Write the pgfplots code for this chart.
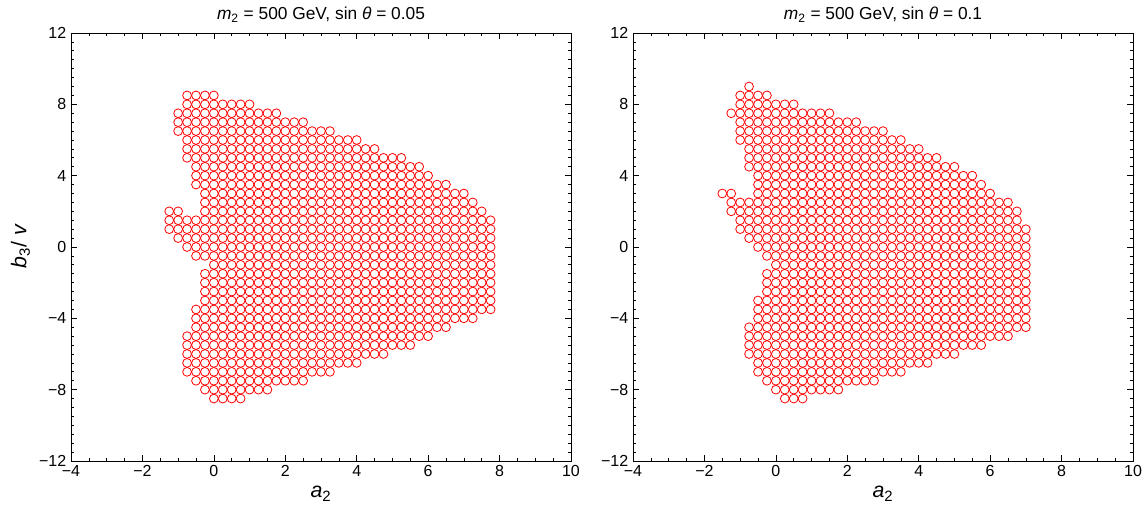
\documentclass[border=0pt]{standalone}
\usepackage{pgfplots}
\pgfplotsset{compat=1.18}
\usepackage{fontspec}
\setmainfont{Liberation Sans}

\pgfplotsset{
  scanaxis/.style={
    scale only axis, width=375pt, height=321pt,
    xmin=-4, xmax=10, ymin=-12, ymax=12,
    xtick={-4,-2,...,10}, xticklabels={−4,−2,0,2,4,6,8,10},
    ytick={-12,-8,...,12}, yticklabels={−12,−8,−4,0,4,8,12},
    minor x tick num=3, minor y tick num=7,
    tick align=inside,
    major tick length=4.5pt, minor tick length=2.2pt,
    every tick/.style={black, line width=0.5pt},
    axis line style={line width=0.6pt},
    ticklabel style={font=\fontsize{12}{14}\selectfont},
    xlabel={{\itshape a}\textsubscript{2}},
    label style={font=\fontsize{16}{18}\selectfont},
    title style={font=\fontsize{13}{15}\selectfont, yshift=-2pt},
  },
  scanpts/.style={only marks, mark=o, mark size=3.3pt, color=red,
    mark options={line width=0.6pt}},
}

\begin{document}
\begin{tikzpicture}
% sin theta = 0.05
\begin{axis}[scanaxis, at={(0pt,0pt)},
  ylabel={{\itshape b}\textsubscript{3}/ {\itshape v}},
  title={{\itshape m}\textsubscript{2} = 500 GeV, sin {\itshape θ} = 0.05}]
\addplot[scanpts] coordinates {
(-0.75,8.5) (-0.5,8.5) (-0.25,8.5) (0,8.5)
(-0.75,8) (-0.5,8) (-0.25,8) (0,8) (0.25,8) (0.5,8) (0.75,8) (1,8)
(-1,7.5) (-0.75,7.5) (-0.5,7.5) (-0.25,7.5) (0,7.5) (0.25,7.5) (0.5,7.5) (0.75,7.5) (1,7.5) (1.25,7.5) (1.5,7.5) (1.75,7.5)
(-1,7) (-0.75,7) (-0.5,7) (-0.25,7) (0,7) (0.25,7) (0.5,7) (0.75,7) (1,7) (1.25,7) (1.5,7) (1.75,7) (2,7) (2.25,7) (2.5,7)
(-1,6.5) (-0.75,6.5) (-0.5,6.5) (-0.25,6.5) (0,6.5) (0.25,6.5) (0.5,6.5) (0.75,6.5) (1,6.5) (1.25,6.5) (1.5,6.5) (1.75,6.5) (2,6.5) (2.25,6.5) (2.5,6.5) (2.75,6.5) (3,6.5) (3.25,6.5)
(-0.75,6) (-0.5,6) (-0.25,6) (0,6) (0.25,6) (0.5,6) (0.75,6) (1,6) (1.25,6) (1.5,6) (1.75,6) (2,6) (2.25,6) (2.5,6) (2.75,6) (3,6) (3.25,6) (3.5,6) (3.75,6) (4,6)
(-0.75,5.5) (-0.5,5.5) (-0.25,5.5) (0,5.5) (0.25,5.5) (0.5,5.5) (0.75,5.5) (1,5.5) (1.25,5.5) (1.5,5.5) (1.75,5.5) (2,5.5) (2.25,5.5) (2.5,5.5) (2.75,5.5) (3,5.5) (3.25,5.5) (3.5,5.5) (3.75,5.5) (4,5.5) (4.25,5.5) (4.5,5.5)
(-0.75,5) (-0.5,5) (-0.25,5) (0,5) (0.25,5) (0.5,5) (0.75,5) (1,5) (1.25,5) (1.5,5) (1.75,5) (2,5) (2.25,5) (2.5,5) (2.75,5) (3,5) (3.25,5) (3.5,5) (3.75,5) (4,5) (4.25,5) (4.5,5) (4.75,5) (5,5) (5.25,5)
(-0.5,4.5) (-0.25,4.5) (0,4.5) (0.25,4.5) (0.5,4.5) (0.75,4.5) (1,4.5) (1.25,4.5) (1.5,4.5) (1.75,4.5) (2,4.5) (2.25,4.5) (2.5,4.5) (2.75,4.5) (3,4.5) (3.25,4.5) (3.5,4.5) (3.75,4.5) (4,4.5) (4.25,4.5) (4.5,4.5) (4.75,4.5) (5,4.5) (5.25,4.5) (5.5,4.5) (5.75,4.5)
(-0.5,4) (-0.25,4) (0,4) (0.25,4) (0.5,4) (0.75,4) (1,4) (1.25,4) (1.5,4) (1.75,4) (2,4) (2.25,4) (2.5,4) (2.75,4) (3,4) (3.25,4) (3.5,4) (3.75,4) (4,4) (4.25,4) (4.5,4) (4.75,4) (5,4) (5.25,4) (5.5,4) (5.75,4) (6,4)
(-0.5,3.5) (-0.25,3.5) (0,3.5) (0.25,3.5) (0.5,3.5) (0.75,3.5) (1,3.5) (1.25,3.5) (1.5,3.5) (1.75,3.5) (2,3.5) (2.25,3.5) (2.5,3.5) (2.75,3.5) (3,3.5) (3.25,3.5) (3.5,3.5) (3.75,3.5) (4,3.5) (4.25,3.5) (4.5,3.5) (4.75,3.5) (5,3.5) (5.25,3.5) (5.5,3.5) (5.75,3.5) (6,3.5) (6.25,3.5) (6.5,3.5)
(-0.25,3) (0,3) (0.25,3) (0.5,3) (0.75,3) (1,3) (1.25,3) (1.5,3) (1.75,3) (2,3) (2.25,3) (2.5,3) (2.75,3) (3,3) (3.25,3) (3.5,3) (3.75,3) (4,3) (4.25,3) (4.5,3) (4.75,3) (5,3) (5.25,3) (5.5,3) (5.75,3) (6,3) (6.25,3) (6.5,3) (6.75,3) (7,3)
(-0.25,2.5) (0,2.5) (0.25,2.5) (0.5,2.5) (0.75,2.5) (1,2.5) (1.25,2.5) (1.5,2.5) (1.75,2.5) (2,2.5) (2.25,2.5) (2.5,2.5) (2.75,2.5) (3,2.5) (3.25,2.5) (3.5,2.5) (3.75,2.5) (4,2.5) (4.25,2.5) (4.5,2.5) (4.75,2.5) (5,2.5) (5.25,2.5) (5.5,2.5) (5.75,2.5) (6,2.5) (6.25,2.5) (6.5,2.5) (6.75,2.5) (7,2.5) (7.25,2.5)
(-1.25,2) (-1,2) (-0.25,2) (0,2) (0.25,2) (0.5,2) (0.75,2) (1,2) (1.25,2) (1.5,2) (1.75,2) (2,2) (2.25,2) (2.5,2) (2.75,2) (3,2) (3.25,2) (3.5,2) (3.75,2) (4,2) (4.25,2) (4.5,2) (4.75,2) (5,2) (5.25,2) (5.5,2) (5.75,2) (6,2) (6.25,2) (6.5,2) (6.75,2) (7,2) (7.25,2) (7.5,2)
(-1.25,1.5) (-1,1.5) (-0.75,1.5) (-0.5,1.5) (-0.25,1.5) (0,1.5) (0.25,1.5) (0.5,1.5) (0.75,1.5) (1,1.5) (1.25,1.5) (1.5,1.5) (1.75,1.5) (2,1.5) (2.25,1.5) (2.5,1.5) (2.75,1.5) (3,1.5) (3.25,1.5) (3.5,1.5) (3.75,1.5) (4,1.5) (4.25,1.5) (4.5,1.5) (4.75,1.5) (5,1.5) (5.25,1.5) (5.5,1.5) (5.75,1.5) (6,1.5) (6.25,1.5) (6.5,1.5) (6.75,1.5) (7,1.5) (7.25,1.5) (7.5,1.5) (7.75,1.5)
(-1.25,1) (-1,1) (-0.75,1) (-0.5,1) (-0.25,1) (0,1) (0.25,1) (0.5,1) (0.75,1) (1,1) (1.25,1) (1.5,1) (1.75,1) (2,1) (2.25,1) (2.5,1) (2.75,1) (3,1) (3.25,1) (3.5,1) (3.75,1) (4,1) (4.25,1) (4.5,1) (4.75,1) (5,1) (5.25,1) (5.5,1) (5.75,1) (6,1) (6.25,1) (6.5,1) (6.75,1) (7,1) (7.25,1) (7.5,1) (7.75,1)
(-1,0.5) (-0.75,0.5) (-0.5,0.5) (-0.25,0.5) (0,0.5) (0.25,0.5) (0.5,0.5) (0.75,0.5) (1,0.5) (1.25,0.5) (1.5,0.5) (1.75,0.5) (2,0.5) (2.25,0.5) (2.5,0.5) (2.75,0.5) (3,0.5) (3.25,0.5) (3.5,0.5) (3.75,0.5) (4,0.5) (4.25,0.5) (4.5,0.5) (4.75,0.5) (5,0.5) (5.25,0.5) (5.5,0.5) (5.75,0.5) (6,0.5) (6.25,0.5) (6.5,0.5) (6.75,0.5) (7,0.5) (7.25,0.5) (7.5,0.5) (7.75,0.5)
(-0.75,0) (-0.5,0) (-0.25,0) (0,0) (0.25,0) (0.5,0) (0.75,0) (1,0) (1.25,0) (1.5,0) (1.75,0) (2,0) (2.25,0) (2.5,0) (2.75,0) (3,0) (3.25,0) (3.5,0) (3.75,0) (4,0) (4.25,0) (4.5,0) (4.75,0) (5,0) (5.25,0) (5.5,0) (5.75,0) (6,0) (6.25,0) (6.5,0) (6.75,0) (7,0) (7.25,0) (7.5,0) (7.75,0)
(-0.5,-0.5) (-0.25,-0.5) (0,-0.5) (0.25,-0.5) (0.5,-0.5) (0.75,-0.5) (1,-0.5) (1.25,-0.5) (1.5,-0.5) (1.75,-0.5) (2,-0.5) (2.25,-0.5) (2.5,-0.5) (2.75,-0.5) (3,-0.5) (3.25,-0.5) (3.5,-0.5) (3.75,-0.5) (4,-0.5) (4.25,-0.5) (4.5,-0.5) (4.75,-0.5) (5,-0.5) (5.25,-0.5) (5.5,-0.5) (5.75,-0.5) (6,-0.5) (6.25,-0.5) (6.5,-0.5) (6.75,-0.5) (7,-0.5) (7.25,-0.5) (7.5,-0.5) (7.75,-0.5)
(0,-1) (0.25,-1) (0.5,-1) (0.75,-1) (1,-1) (1.25,-1) (1.5,-1) (1.75,-1) (2,-1) (2.25,-1) (2.5,-1) (2.75,-1) (3,-1) (3.25,-1) (3.5,-1) (3.75,-1) (4,-1) (4.25,-1) (4.5,-1) (4.75,-1) (5,-1) (5.25,-1) (5.5,-1) (5.75,-1) (6,-1) (6.25,-1) (6.5,-1) (6.75,-1) (7,-1) (7.25,-1) (7.5,-1) (7.75,-1)
(-0.25,-1.5) (0,-1.5) (0.25,-1.5) (0.5,-1.5) (0.75,-1.5) (1,-1.5) (1.25,-1.5) (1.5,-1.5) (1.75,-1.5) (2,-1.5) (2.25,-1.5) (2.5,-1.5) (2.75,-1.5) (3,-1.5) (3.25,-1.5) (3.5,-1.5) (3.75,-1.5) (4,-1.5) (4.25,-1.5) (4.5,-1.5) (4.75,-1.5) (5,-1.5) (5.25,-1.5) (5.5,-1.5) (5.75,-1.5) (6,-1.5) (6.25,-1.5) (6.5,-1.5) (6.75,-1.5) (7,-1.5) (7.25,-1.5) (7.5,-1.5) (7.75,-1.5)
(-0.25,-2) (0,-2) (0.25,-2) (0.5,-2) (0.75,-2) (1,-2) (1.25,-2) (1.5,-2) (1.75,-2) (2,-2) (2.25,-2) (2.5,-2) (2.75,-2) (3,-2) (3.25,-2) (3.5,-2) (3.75,-2) (4,-2) (4.25,-2) (4.5,-2) (4.75,-2) (5,-2) (5.25,-2) (5.5,-2) (5.75,-2) (6,-2) (6.25,-2) (6.5,-2) (6.75,-2) (7,-2) (7.25,-2) (7.5,-2) (7.75,-2)
(-0.25,-2.5) (0,-2.5) (0.25,-2.5) (0.5,-2.5) (0.75,-2.5) (1,-2.5) (1.25,-2.5) (1.5,-2.5) (1.75,-2.5) (2,-2.5) (2.25,-2.5) (2.5,-2.5) (2.75,-2.5) (3,-2.5) (3.25,-2.5) (3.5,-2.5) (3.75,-2.5) (4,-2.5) (4.25,-2.5) (4.5,-2.5) (4.75,-2.5) (5,-2.5) (5.25,-2.5) (5.5,-2.5) (5.75,-2.5) (6,-2.5) (6.25,-2.5) (6.5,-2.5) (6.75,-2.5) (7,-2.5) (7.25,-2.5) (7.5,-2.5) (7.75,-2.5)
(-0.25,-3) (0,-3) (0.25,-3) (0.5,-3) (0.75,-3) (1,-3) (1.25,-3) (1.5,-3) (1.75,-3) (2,-3) (2.25,-3) (2.5,-3) (2.75,-3) (3,-3) (3.25,-3) (3.5,-3) (3.75,-3) (4,-3) (4.25,-3) (4.5,-3) (4.75,-3) (5,-3) (5.25,-3) (5.5,-3) (5.75,-3) (6,-3) (6.25,-3) (6.5,-3) (6.75,-3) (7,-3) (7.25,-3) (7.5,-3) (7.75,-3)
(-0.5,-3.5) (-0.25,-3.5) (0,-3.5) (0.25,-3.5) (0.5,-3.5) (0.75,-3.5) (1,-3.5) (1.25,-3.5) (1.5,-3.5) (1.75,-3.5) (2,-3.5) (2.25,-3.5) (2.5,-3.5) (2.75,-3.5) (3,-3.5) (3.25,-3.5) (3.5,-3.5) (3.75,-3.5) (4,-3.5) (4.25,-3.5) (4.5,-3.5) (4.75,-3.5) (5,-3.5) (5.25,-3.5) (5.5,-3.5) (5.75,-3.5) (6,-3.5) (6.25,-3.5) (6.5,-3.5) (6.75,-3.5) (7,-3.5) (7.25,-3.5) (7.5,-3.5) (7.75,-3.5)
(-0.5,-4) (-0.25,-4) (0,-4) (0.25,-4) (0.5,-4) (0.75,-4) (1,-4) (1.25,-4) (1.5,-4) (1.75,-4) (2,-4) (2.25,-4) (2.5,-4) (2.75,-4) (3,-4) (3.25,-4) (3.5,-4) (3.75,-4) (4,-4) (4.25,-4) (4.5,-4) (4.75,-4) (5,-4) (5.25,-4) (5.5,-4) (5.75,-4) (6,-4) (6.25,-4) (6.5,-4) (6.75,-4) (7,-4) (7.25,-4)
(-0.5,-4.5) (-0.25,-4.5) (0,-4.5) (0.25,-4.5) (0.5,-4.5) (0.75,-4.5) (1,-4.5) (1.25,-4.5) (1.5,-4.5) (1.75,-4.5) (2,-4.5) (2.25,-4.5) (2.5,-4.5) (2.75,-4.5) (3,-4.5) (3.25,-4.5) (3.5,-4.5) (3.75,-4.5) (4,-4.5) (4.25,-4.5) (4.5,-4.5) (4.75,-4.5) (5,-4.5) (5.25,-4.5) (5.5,-4.5) (5.75,-4.5) (6,-4.5) (6.25,-4.5) (6.5,-4.5)
(-0.75,-5) (-0.5,-5) (-0.25,-5) (0,-5) (0.25,-5) (0.5,-5) (0.75,-5) (1,-5) (1.25,-5) (1.5,-5) (1.75,-5) (2,-5) (2.25,-5) (2.5,-5) (2.75,-5) (3,-5) (3.25,-5) (3.5,-5) (3.75,-5) (4,-5) (4.25,-5) (4.5,-5) (4.75,-5) (5,-5) (5.25,-5) (5.5,-5) (5.75,-5) (6,-5)
(-0.75,-5.5) (-0.5,-5.5) (-0.25,-5.5) (0,-5.5) (0.25,-5.5) (0.5,-5.5) (0.75,-5.5) (1,-5.5) (1.25,-5.5) (1.5,-5.5) (1.75,-5.5) (2,-5.5) (2.25,-5.5) (2.5,-5.5) (2.75,-5.5) (3,-5.5) (3.25,-5.5) (3.5,-5.5) (3.75,-5.5) (4,-5.5) (4.25,-5.5) (4.5,-5.5) (4.75,-5.5) (5,-5.5) (5.25,-5.5) (5.5,-5.5)
(-0.75,-6) (-0.5,-6) (-0.25,-6) (0,-6) (0.25,-6) (0.5,-6) (0.75,-6) (1,-6) (1.25,-6) (1.5,-6) (1.75,-6) (2,-6) (2.25,-6) (2.5,-6) (2.75,-6) (3,-6) (3.25,-6) (3.5,-6) (3.75,-6) (4,-6) (4.25,-6) (4.5,-6) (4.75,-6)
(-0.75,-6.5) (-0.5,-6.5) (-0.25,-6.5) (0,-6.5) (0.25,-6.5) (0.5,-6.5) (0.75,-6.5) (1,-6.5) (1.25,-6.5) (1.5,-6.5) (1.75,-6.5) (2,-6.5) (2.25,-6.5) (2.5,-6.5) (2.75,-6.5) (3,-6.5) (3.25,-6.5) (3.5,-6.5) (3.75,-6.5) (4,-6.5)
(-0.75,-7) (-0.5,-7) (-0.25,-7) (0,-7) (0.25,-7) (0.5,-7) (0.75,-7) (1,-7) (1.25,-7) (1.5,-7) (1.75,-7) (2,-7) (2.25,-7) (2.5,-7) (2.75,-7) (3,-7) (3.25,-7)
(-0.5,-7.5) (-0.25,-7.5) (0,-7.5) (0.25,-7.5) (0.5,-7.5) (0.75,-7.5) (1,-7.5) (1.25,-7.5) (1.5,-7.5) (1.75,-7.5) (2,-7.5) (2.25,-7.5) (2.5,-7.5)
(-0.25,-8) (0,-8) (0.25,-8) (0.5,-8) (0.75,-8) (1,-8) (1.25,-8) (1.5,-8)
(0,-8.5) (0.25,-8.5) (0.5,-8.5) (0.75,-8.5)
};
\end{axis}
% sin theta = 0.1
\begin{axis}[scanaxis, at={(421.5pt,0pt)},
  title={{\itshape m}\textsubscript{2} = 500 GeV, sin {\itshape θ} = 0.1}]
\addplot[scanpts] coordinates {
(-0.75,9)
(-1,8.5) (-0.75,8.5) (-0.5,8.5) (-0.25,8.5)
(-1,8) (-0.75,8) (-0.5,8) (-0.25,8) (0,8) (0.25,8) (0.5,8)
(-1.25,7.5) (-1,7.5) (-0.75,7.5) (-0.5,7.5) (-0.25,7.5) (0,7.5) (0.25,7.5) (0.5,7.5) (0.75,7.5) (1,7.5) (1.25,7.5) (1.5,7.5)
(-1,7) (-0.75,7) (-0.5,7) (-0.25,7) (0,7) (0.25,7) (0.5,7) (0.75,7) (1,7) (1.25,7) (1.5,7) (1.75,7) (2,7) (2.25,7)
(-1,6.5) (-0.75,6.5) (-0.5,6.5) (-0.25,6.5) (0,6.5) (0.25,6.5) (0.5,6.5) (0.75,6.5) (1,6.5) (1.25,6.5) (1.5,6.5) (1.75,6.5) (2,6.5) (2.25,6.5) (2.5,6.5) (2.75,6.5) (3,6.5)
(-1,6) (-0.75,6) (-0.5,6) (-0.25,6) (0,6) (0.25,6) (0.5,6) (0.75,6) (1,6) (1.25,6) (1.5,6) (1.75,6) (2,6) (2.25,6) (2.5,6) (2.75,6) (3,6) (3.25,6) (3.5,6)
(-0.75,5.5) (-0.5,5.5) (-0.25,5.5) (0,5.5) (0.25,5.5) (0.5,5.5) (0.75,5.5) (1,5.5) (1.25,5.5) (1.5,5.5) (1.75,5.5) (2,5.5) (2.25,5.5) (2.5,5.5) (2.75,5.5) (3,5.5) (3.25,5.5) (3.5,5.5) (3.75,5.5) (4,5.5)
(-0.75,5) (-0.5,5) (-0.25,5) (0,5) (0.25,5) (0.5,5) (0.75,5) (1,5) (1.25,5) (1.5,5) (1.75,5) (2,5) (2.25,5) (2.5,5) (2.75,5) (3,5) (3.25,5) (3.5,5) (3.75,5) (4,5) (4.25,5) (4.5,5)
(-0.75,4.5) (-0.5,4.5) (-0.25,4.5) (0,4.5) (0.25,4.5) (0.5,4.5) (0.75,4.5) (1,4.5) (1.25,4.5) (1.5,4.5) (1.75,4.5) (2,4.5) (2.25,4.5) (2.5,4.5) (2.75,4.5) (3,4.5) (3.25,4.5) (3.5,4.5) (3.75,4.5) (4,4.5) (4.25,4.5) (4.5,4.5) (4.75,4.5) (5,4.5)
(-0.5,4) (-0.25,4) (0,4) (0.25,4) (0.5,4) (0.75,4) (1,4) (1.25,4) (1.5,4) (1.75,4) (2,4) (2.25,4) (2.5,4) (2.75,4) (3,4) (3.25,4) (3.5,4) (3.75,4) (4,4) (4.25,4) (4.5,4) (4.75,4) (5,4) (5.25,4) (5.5,4)
(-0.5,3.5) (-0.25,3.5) (0,3.5) (0.25,3.5) (0.5,3.5) (0.75,3.5) (1,3.5) (1.25,3.5) (1.5,3.5) (1.75,3.5) (2,3.5) (2.25,3.5) (2.5,3.5) (2.75,3.5) (3,3.5) (3.25,3.5) (3.5,3.5) (3.75,3.5) (4,3.5) (4.25,3.5) (4.5,3.5) (4.75,3.5) (5,3.5) (5.25,3.5) (5.5,3.5) (5.75,3.5)
(-1.5,3) (-1.25,3) (-0.5,3) (-0.25,3) (0,3) (0.25,3) (0.5,3) (0.75,3) (1,3) (1.25,3) (1.5,3) (1.75,3) (2,3) (2.25,3) (2.5,3) (2.75,3) (3,3) (3.25,3) (3.5,3) (3.75,3) (4,3) (4.25,3) (4.5,3) (4.75,3) (5,3) (5.25,3) (5.5,3) (5.75,3) (6,3)
(-1.25,2.5) (-1,2.5) (-0.75,2.5) (-0.5,2.5) (-0.25,2.5) (0,2.5) (0.25,2.5) (0.5,2.5) (0.75,2.5) (1,2.5) (1.25,2.5) (1.5,2.5) (1.75,2.5) (2,2.5) (2.25,2.5) (2.5,2.5) (2.75,2.5) (3,2.5) (3.25,2.5) (3.5,2.5) (3.75,2.5) (4,2.5) (4.25,2.5) (4.5,2.5) (4.75,2.5) (5,2.5) (5.25,2.5) (5.5,2.5) (5.75,2.5) (6,2.5) (6.25,2.5) (6.5,2.5)
(-1.25,2) (-1,2) (-0.75,2) (-0.5,2) (-0.25,2) (0,2) (0.25,2) (0.5,2) (0.75,2) (1,2) (1.25,2) (1.5,2) (1.75,2) (2,2) (2.25,2) (2.5,2) (2.75,2) (3,2) (3.25,2) (3.5,2) (3.75,2) (4,2) (4.25,2) (4.5,2) (4.75,2) (5,2) (5.25,2) (5.5,2) (5.75,2) (6,2) (6.25,2) (6.5,2) (6.75,2)
(-1,1.5) (-0.75,1.5) (-0.5,1.5) (-0.25,1.5) (0,1.5) (0.25,1.5) (0.5,1.5) (0.75,1.5) (1,1.5) (1.25,1.5) (1.5,1.5) (1.75,1.5) (2,1.5) (2.25,1.5) (2.5,1.5) (2.75,1.5) (3,1.5) (3.25,1.5) (3.5,1.5) (3.75,1.5) (4,1.5) (4.25,1.5) (4.5,1.5) (4.75,1.5) (5,1.5) (5.25,1.5) (5.5,1.5) (5.75,1.5) (6,1.5) (6.25,1.5) (6.5,1.5) (6.75,1.5)
(-1,1) (-0.75,1) (-0.5,1) (-0.25,1) (0,1) (0.25,1) (0.5,1) (0.75,1) (1,1) (1.25,1) (1.5,1) (1.75,1) (2,1) (2.25,1) (2.5,1) (2.75,1) (3,1) (3.25,1) (3.5,1) (3.75,1) (4,1) (4.25,1) (4.5,1) (4.75,1) (5,1) (5.25,1) (5.5,1) (5.75,1) (6,1) (6.25,1) (6.5,1) (6.75,1) (7,1)
(-0.75,0.5) (-0.5,0.5) (-0.25,0.5) (0,0.5) (0.25,0.5) (0.5,0.5) (0.75,0.5) (1,0.5) (1.25,0.5) (1.5,0.5) (1.75,0.5) (2,0.5) (2.25,0.5) (2.5,0.5) (2.75,0.5) (3,0.5) (3.25,0.5) (3.5,0.5) (3.75,0.5) (4,0.5) (4.25,0.5) (4.5,0.5) (4.75,0.5) (5,0.5) (5.25,0.5) (5.5,0.5) (5.75,0.5) (6,0.5) (6.25,0.5) (6.5,0.5) (6.75,0.5) (7,0.5)
(-0.5,0) (-0.25,0) (0,0) (0.25,0) (0.5,0) (0.75,0) (1,0) (1.25,0) (1.5,0) (1.75,0) (2,0) (2.25,0) (2.5,0) (2.75,0) (3,0) (3.25,0) (3.5,0) (3.75,0) (4,0) (4.25,0) (4.5,0) (4.75,0) (5,0) (5.25,0) (5.5,0) (5.75,0) (6,0) (6.25,0) (6.5,0) (6.75,0) (7,0)
(-0.25,-0.5) (0,-0.5) (0.25,-0.5) (0.5,-0.5) (0.75,-0.5) (1,-0.5) (1.25,-0.5) (1.5,-0.5) (1.75,-0.5) (2,-0.5) (2.25,-0.5) (2.5,-0.5) (2.75,-0.5) (3,-0.5) (3.25,-0.5) (3.5,-0.5) (3.75,-0.5) (4,-0.5) (4.25,-0.5) (4.5,-0.5) (4.75,-0.5) (5,-0.5) (5.25,-0.5) (5.5,-0.5) (5.75,-0.5) (6,-0.5) (6.25,-0.5) (6.5,-0.5) (6.75,-0.5) (7,-0.5)
(0,-1) (0.25,-1) (0.5,-1) (0.75,-1) (1,-1) (1.25,-1) (1.5,-1) (1.75,-1) (2,-1) (2.25,-1) (2.5,-1) (2.75,-1) (3,-1) (3.25,-1) (3.5,-1) (3.75,-1) (4,-1) (4.25,-1) (4.5,-1) (4.75,-1) (5,-1) (5.25,-1) (5.5,-1) (5.75,-1) (6,-1) (6.25,-1) (6.5,-1) (6.75,-1) (7,-1)
(-0.25,-1.5) (0,-1.5) (0.25,-1.5) (0.5,-1.5) (0.75,-1.5) (1,-1.5) (1.25,-1.5) (1.5,-1.5) (1.75,-1.5) (2,-1.5) (2.25,-1.5) (2.5,-1.5) (2.75,-1.5) (3,-1.5) (3.25,-1.5) (3.5,-1.5) (3.75,-1.5) (4,-1.5) (4.25,-1.5) (4.5,-1.5) (4.75,-1.5) (5,-1.5) (5.25,-1.5) (5.5,-1.5) (5.75,-1.5) (6,-1.5) (6.25,-1.5) (6.5,-1.5) (6.75,-1.5) (7,-1.5)
(-0.25,-2) (0,-2) (0.25,-2) (0.5,-2) (0.75,-2) (1,-2) (1.25,-2) (1.5,-2) (1.75,-2) (2,-2) (2.25,-2) (2.5,-2) (2.75,-2) (3,-2) (3.25,-2) (3.5,-2) (3.75,-2) (4,-2) (4.25,-2) (4.5,-2) (4.75,-2) (5,-2) (5.25,-2) (5.5,-2) (5.75,-2) (6,-2) (6.25,-2) (6.5,-2) (6.75,-2) (7,-2)
(-0.25,-2.5) (0,-2.5) (0.25,-2.5) (0.5,-2.5) (0.75,-2.5) (1,-2.5) (1.25,-2.5) (1.5,-2.5) (1.75,-2.5) (2,-2.5) (2.25,-2.5) (2.5,-2.5) (2.75,-2.5) (3,-2.5) (3.25,-2.5) (3.5,-2.5) (3.75,-2.5) (4,-2.5) (4.25,-2.5) (4.5,-2.5) (4.75,-2.5) (5,-2.5) (5.25,-2.5) (5.5,-2.5) (5.75,-2.5) (6,-2.5) (6.25,-2.5) (6.5,-2.5) (6.75,-2.5) (7,-2.5)
(-0.5,-3) (-0.25,-3) (0,-3) (0.25,-3) (0.5,-3) (0.75,-3) (1,-3) (1.25,-3) (1.5,-3) (1.75,-3) (2,-3) (2.25,-3) (2.5,-3) (2.75,-3) (3,-3) (3.25,-3) (3.5,-3) (3.75,-3) (4,-3) (4.25,-3) (4.5,-3) (4.75,-3) (5,-3) (5.25,-3) (5.5,-3) (5.75,-3) (6,-3) (6.25,-3) (6.5,-3) (6.75,-3) (7,-3)
(-0.5,-3.5) (-0.25,-3.5) (0,-3.5) (0.25,-3.5) (0.5,-3.5) (0.75,-3.5) (1,-3.5) (1.25,-3.5) (1.5,-3.5) (1.75,-3.5) (2,-3.5) (2.25,-3.5) (2.5,-3.5) (2.75,-3.5) (3,-3.5) (3.25,-3.5) (3.5,-3.5) (3.75,-3.5) (4,-3.5) (4.25,-3.5) (4.5,-3.5) (4.75,-3.5) (5,-3.5) (5.25,-3.5) (5.5,-3.5) (5.75,-3.5) (6,-3.5) (6.25,-3.5) (6.5,-3.5) (6.75,-3.5) (7,-3.5)
(-0.5,-4) (-0.25,-4) (0,-4) (0.25,-4) (0.5,-4) (0.75,-4) (1,-4) (1.25,-4) (1.5,-4) (1.75,-4) (2,-4) (2.25,-4) (2.5,-4) (2.75,-4) (3,-4) (3.25,-4) (3.5,-4) (3.75,-4) (4,-4) (4.25,-4) (4.5,-4) (4.75,-4) (5,-4) (5.25,-4) (5.5,-4) (5.75,-4) (6,-4) (6.25,-4) (6.5,-4) (6.75,-4) (7,-4)
(-0.75,-4.5) (-0.5,-4.5) (-0.25,-4.5) (0,-4.5) (0.25,-4.5) (0.5,-4.5) (0.75,-4.5) (1,-4.5) (1.25,-4.5) (1.5,-4.5) (1.75,-4.5) (2,-4.5) (2.25,-4.5) (2.5,-4.5) (2.75,-4.5) (3,-4.5) (3.25,-4.5) (3.5,-4.5) (3.75,-4.5) (4,-4.5) (4.25,-4.5) (4.5,-4.5) (4.75,-4.5) (5,-4.5) (5.25,-4.5) (5.5,-4.5) (5.75,-4.5) (6,-4.5) (6.25,-4.5) (6.5,-4.5) (6.75,-4.5) (7,-4.5)
(-0.75,-5) (-0.5,-5) (-0.25,-5) (0,-5) (0.25,-5) (0.5,-5) (0.75,-5) (1,-5) (1.25,-5) (1.5,-5) (1.75,-5) (2,-5) (2.25,-5) (2.5,-5) (2.75,-5) (3,-5) (3.25,-5) (3.5,-5) (3.75,-5) (4,-5) (4.25,-5) (4.5,-5) (4.75,-5) (5,-5) (5.25,-5) (5.5,-5) (5.75,-5) (6,-5) (6.25,-5) (6.5,-5)
(-0.75,-5.5) (-0.5,-5.5) (-0.25,-5.5) (0,-5.5) (0.25,-5.5) (0.5,-5.5) (0.75,-5.5) (1,-5.5) (1.25,-5.5) (1.5,-5.5) (1.75,-5.5) (2,-5.5) (2.25,-5.5) (2.5,-5.5) (2.75,-5.5) (3,-5.5) (3.25,-5.5) (3.5,-5.5) (3.75,-5.5) (4,-5.5) (4.25,-5.5) (4.5,-5.5) (4.75,-5.5) (5,-5.5) (5.25,-5.5) (5.5,-5.5) (5.75,-5.5)
(-0.75,-6) (-0.5,-6) (-0.25,-6) (0,-6) (0.25,-6) (0.5,-6) (0.75,-6) (1,-6) (1.25,-6) (1.5,-6) (1.75,-6) (2,-6) (2.25,-6) (2.5,-6) (2.75,-6) (3,-6) (3.25,-6) (3.5,-6) (3.75,-6) (4,-6) (4.25,-6) (4.5,-6) (4.75,-6) (5,-6)
(-0.5,-6.5) (-0.25,-6.5) (0,-6.5) (0.25,-6.5) (0.5,-6.5) (0.75,-6.5) (1,-6.5) (1.25,-6.5) (1.5,-6.5) (1.75,-6.5) (2,-6.5) (2.25,-6.5) (2.5,-6.5) (2.75,-6.5) (3,-6.5) (3.25,-6.5) (3.5,-6.5) (3.75,-6.5) (4,-6.5) (4.25,-6.5)
(-0.5,-7) (-0.25,-7) (0,-7) (0.25,-7) (0.5,-7) (0.75,-7) (1,-7) (1.25,-7) (1.5,-7) (1.75,-7) (2,-7) (2.25,-7) (2.5,-7) (2.75,-7) (3,-7) (3.25,-7) (3.5,-7)
(-0.25,-7.5) (0,-7.5) (0.25,-7.5) (0.5,-7.5) (0.75,-7.5) (1,-7.5) (1.25,-7.5) (1.5,-7.5) (1.75,-7.5) (2,-7.5) (2.25,-7.5) (2.5,-7.5) (2.75,-7.5)
(0,-8) (0.25,-8) (0.5,-8) (0.75,-8) (1,-8) (1.25,-8) (1.5,-8) (1.75,-8)
(0.25,-8.5) (0.5,-8.5) (0.75,-8.5)
};
\end{axis}
% fixed page frame
\pgfresetboundingbox
\useasboundingbox (-53.25pt,-45pt) rectangle (804pt,345.75pt);
\end{tikzpicture}
\end{document}
